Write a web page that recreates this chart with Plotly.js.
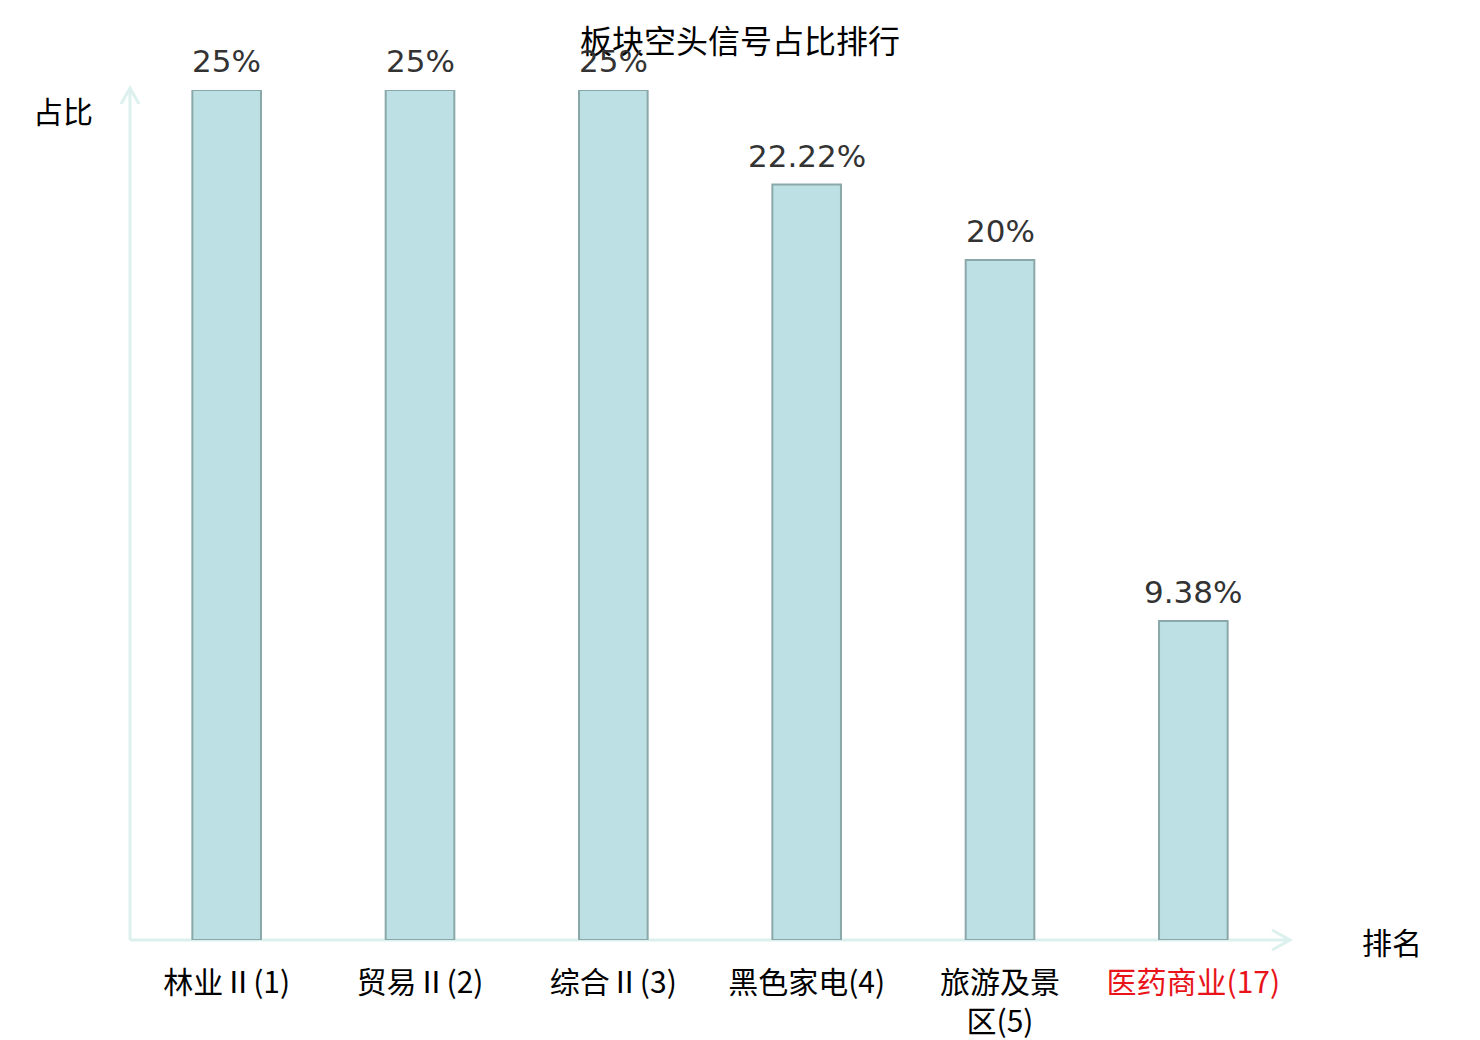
<!DOCTYPE html>
<html>
<head>
<meta charset="utf-8">
<script src="https://cdn.plot.ly/plotly-3.0.1.min.js"></script>
<style>
  html, body { margin: 0; padding: 0; background: #fff; }
  #chart { width: 1480px; height: 1040px; }
</style>
</head>
<body>
<div id="chart"></div>
<script>
// 板块空头信号占比排行 -- 数据
const bankuai = ['林业Ⅱ', '贸易Ⅱ', '综合Ⅱ', '黑色家电', '旅游及景<br>区', '医药商业'];
const paiming = [1, 2, 3, 4, 5, 17];
const zhanbi = [25, 25, 25, 22.22, 20, 9.38];
const gaoliang = [false, false, false, false, false, true]; // 红色标出的板块

const FONT_CJK = '"Noto Sans CJK SC", "Noto Sans", sans-serif';
const AXIS_COLOR = '#dcf1ee';

const xCats = bankuai.map((b, i) => `${b}(${paiming[i]})`);
const tickText = xCats.map((t, i) => gaoliang[i] ? `<span style="color:#e8141a">${t}</span>` : t);

const trace = {
  type: 'bar',
  x: xCats,
  y: zhanbi,
  marker: { color: 'rgb(188,224,227)', line: { color: 'rgb(138,168,170)', width: 2 } },
  hoverinfo: 'skip',
};

// 柱顶数值标签
const valueLabels = zhanbi.map((v, i) => ({
  x: xCats[i], y: v, xref: 'x', yref: 'y',
  text: `${v}%`, showarrow: false,
  yanchor: 'bottom', yshift: 9,
  font: { family: '"DejaVu Sans", sans-serif', size: 31, color: '#333333' },
}));

// 坐标轴 + 箭头 (纯装饰，纸面坐标)
const W = 1160, H = 850;
const ejes = [
  { type: 'line', xref: 'paper', yref: 'paper', x0: 0, y0: 0, x1: 0, y1: 1 + 2 / H },
  { type: 'line', xref: 'paper', yref: 'paper', x0: 0, y0: 0, x1: 1, y1: 0 },
  { type: 'path', xref: 'paper', yref: 'paper',
    path: `M ${-9 / W},${1 - 14 / H} L 0,${1 + 2 / H} L ${9 / W},${1 - 14 / H}` },
  { type: 'path', xref: 'paper', yref: 'paper',
    path: `M ${1 - 18 / W},${10 / H} L 1,0 L ${1 - 18 / W},${-10 / H}` },
].map((s) => Object.assign(s, { line: { color: AXIS_COLOR, width: 3 }, layer: 'below' }));

const layout = {
  width: 1480,
  height: 1040,
  margin: { t: 90, r: 190, b: 100, l: 130 },
  paper_bgcolor: '#ffffff',
  plot_bgcolor: '#ffffff',
  showlegend: false,
  bargap: 0.645,
  font: { family: FONT_CJK, size: 30, color: '#000000' },
  title: {
    text: '板块空头信号占比排行',
    x: 0.5, xref: 'container', xanchor: 'center',
    y: 1 - 42 / 1040, yref: 'container', yanchor: 'middle',
    font: { family: FONT_CJK, size: 32, color: '#000000' },
  },
  xaxis: {
    type: 'category',
    tickmode: 'array',
    tickvals: xCats,
    ticktext: tickText,
    showline: false, showgrid: false, zeroline: false,
    ticks: '',
    ticklabelstandoff: 22,
    tickfont: { family: FONT_CJK, size: 30, color: '#000000' },
  },
  yaxis: {
    range: [0, 25],
    showline: false, showgrid: false, zeroline: false,
    showticklabels: false, ticks: '',
  },
  shapes: ejes,
  annotations: [
    ...valueLabels,
    { xref: 'paper', yref: 'paper', x: -67 / W, y: 1 - 20 / H, text: '占比', showarrow: false,
      xanchor: 'center', yanchor: 'middle', font: { family: FONT_CJK, size: 30, color: '#000000' } },
    { xref: 'paper', yref: 'paper', x: 1 + 102 / W, y: -1 / H, text: '排名', showarrow: false,
      xanchor: 'center', yanchor: 'middle', font: { family: FONT_CJK, size: 30, color: '#000000' } },
  ],
};

Plotly.newPlot('chart', [trace], layout, { displayModeBar: false, staticPlot: true });
</script>
</body>
</html>
